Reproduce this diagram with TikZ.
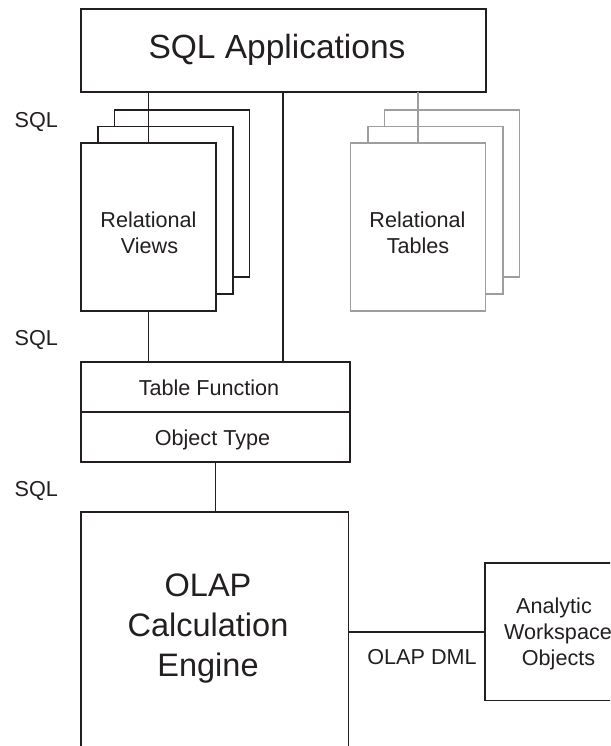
\documentclass[tikz,border=0pt]{standalone}
\usepackage{fontspec}
\setmainfont{Liberation Sans}
\usetikzlibrary{calc}
\definecolor{ink}{HTML}{231F20}
\definecolor{rtgray}{RGB}{158,158,158}
\begin{document}
\begin{tikzpicture}[x=1pt,y=-1pt,
  box/.style={rectangle, draw=ink, line width=1.6pt, fill=white, inner sep=0pt, outer sep=0pt},
  card/.style={box, minimum width=135pt, minimum height=167.5pt},
  graycard/.style={card, draw=rtgray},
  link/.style={draw=ink, line width=1.6pt},
  graylink/.style={link, draw=rtgray},
  small/.style={text=ink, inner sep=0pt, anchor=base, font=\fontsize{21.6}{26}\selectfont},
  big/.style={text=ink, inner sep=0pt, anchor=base, font=\fontsize{33.5}{40}\selectfont},
  engine/.style={big, font=\fontsize{32.5}{40}\selectfont},
]
\useasboundingbox (0,0) rectangle (610,746);
\clip (0,0) rectangle (610,746);

% top application box
\node[box, minimum width=405pt, minimum height=83pt] (app) at (283.5,50.5) {};
\node[big] (apptext) at (277,59) {SQL Applications};

% stacked relational views
\node[card] (rv3) at (182,193.5) {};
\node[card] (rv2) at (165.25,210.25) {};
\node[card] (rv1) at (148.5,227) {};
\node[small] (rvtext1) at (148.5,227.3) {Relational};
\node[small] (rvtext2) at (149.5,253.3) {Views};

% stacked relational tables (grey)
\node[graycard] (rt3) at (452,193.5) {};
\node[graycard] (rt2) at (435.25,210.25) {};
\node[graycard] (rt1) at (418,227) {};
\node[small] (rttext1) at (417.5,227.3) {Relational};
\node[small] (rttext2) at (418,253.3) {Tables};

% table function / object type
\node[box, minimum width=269pt, minimum height=100pt] (tf) at (215.5,412) {};
\draw[link] (tf.west) -- (tf.east);
\node[small] (tftext) at (209,395) {Table Function};
\node[small] (ottext) at (212.5,445.5) {Object Type};
\coordinate (tfin) at ($(tf.north west)!0.75!(tf.north east)$);

% OLAP engine
\node[box, minimum width=267.5pt, minimum height=288pt] (olap) at (214.75,656) {};
\node[engine] (olap1) at (208,596.7) {OLAP};
\node[engine] (olap2) at (208,636.7) {Calculation};
\node[engine] (olap3) at (208,676.7) {Engine};

% analytic workspace
\node[box, minimum width=144pt, minimum height=137.5pt] (aw) at (557,631.75) {};
\node[small] (awtext1) at (554,613) {Analytic};
\node[small] (awtext2) at (558,639) {Workspace};
\node[small] (awtext3) at (558.5,665) {Objects};

% interface labels
\node[small, anchor=base west] (sql1) at (14.5,127.5) {SQL};
\node[small, anchor=base west] (sql2) at (14.5,345) {SQL};
\node[small, anchor=base west] (sql3) at (14.5,496) {SQL};
\node[small] (dml) at (422,664) {OLAP DML};

% connectors
\draw[link] (app.south -| rv1.north) -- (rv1.north);
\draw[graylink] (app.south -| rt1.north) -- (rt1.north);
\draw[link] (app.south -| tfin) -- (tfin);
\draw[link] (rv1.south) -- (rv1.south |- tf.north);
\draw[link] (tf.south) -- (tf.south |- olap.north);
\draw[link] (aw.west) -- (aw.west -| olap.east);
\end{tikzpicture}
\end{document}
